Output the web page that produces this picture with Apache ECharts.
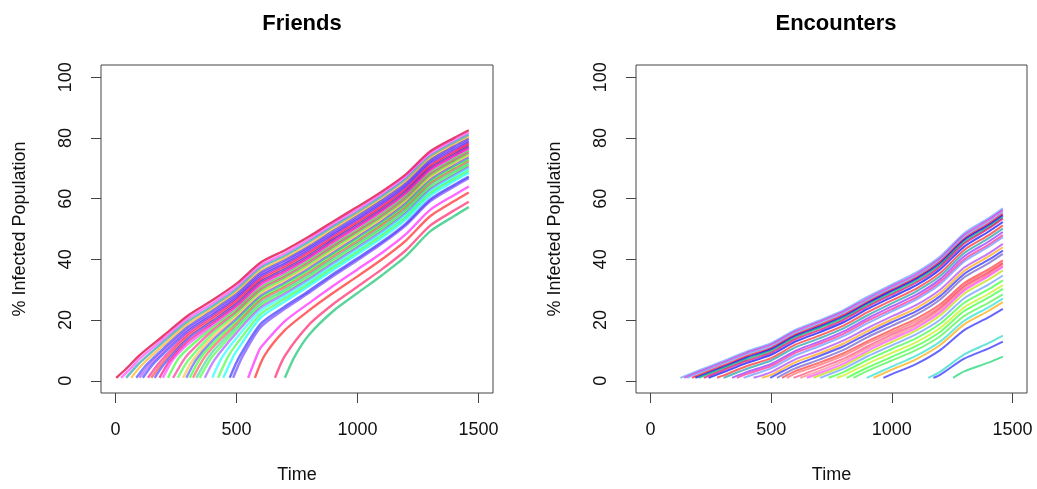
<!DOCTYPE html>
<html><head><meta charset="utf-8">
<script src="https://cdn.jsdelivr.net/npm/echarts@6/dist/echarts.min.js"></script>
<style>html,body{margin:0;padding:0;background:#fff}#c{width:1037px;height:489px}</style>
</head><body><div id="c"></div>
<script>
const panelTitles = ['Friends', 'Encounters'];
const xLabel = 'Time';
const yLabel = '% Infected Population';
const xTicks = [0, 500, 1000, 1500];
const yTicks = [0, 20, 40, 60, 80, 100];
const startLevel = 1;
const timeGrid = [100, 200, 300, 400, 500, 600, 700, 800, 900, 1000, 1100, 1200, 1300, 1400, 1460];

// Friends: start time, early point, values at timeGrid
const friendsStart = [3,23,44,65,86,99,113,134,148,162,182,196,217,238,258,279,293,307,320,334,348,369,400,424,445,472,486,548,576,659,700];
const friendsKnee = [[43,3.9],[63,4.1],[84,4.6],[105,4.9],[126,5.1],[139,5.1],[153,5.3],[174,5.3],[188,5.4],[202,5.6],[222,6.4],[236,6.8],[257,7.0],[278,6.4],[298,6.5],[319,6.8],[333,6.9],[347,7.0],[360,6.85],[374,6.5],[388,6.6],[409,6.9],[440,7.7],[464,7.8],[485,7.8],[512,7.95],[526,8.2],[588,9.1],[616,8.4],[699,8.1],[740,8.0]];
const friendsValues = [
  [8.5,15,21.5,26.5,32,39,43,47.5,52.5,57.3,62.3,68,75.5,80,82.5],
  [7.3,13.95,20.5,25.5,31,38,42,46.6,51.6,56.4,61.4,67.2,74.7,79.2,81.7],
  [6.0,13.0,19.6,24.6,30.1,37.2,41.2,45.8,50.8,55.6,60.7,66.4,73.9,78.5,81],
  [null,11.9,18.7,23.7,29.3,36.3,40.4,44.9,50,54.9,59.9,65.7,73.2,77.8,80.3],
  [null,10.8,17.8,23.0,28.5,35.6,39.7,44.2,49.3,54.2,59.3,65,72.6,77.2,79.7],
  [null,9.95,17.1,22.3,27.9,35,39.1,43.7,48.7,53.6,58.7,64.5,72.1,76.7,79.2],
  [null,9.05,16.4,21.7,27.3,34.4,38.5,43.1,48.2,53.1,58.2,64,71.6,76.1,78.7],
  [null,7.7,15.6,21.0,26.7,33.8,37.9,42.5,47.6,52.5,57.6,63.4,71,75.6,78.2],
  [null,6.55,14.8,20.3,26.05,33.2,37.3,41.9,47.0,51.95,57.1,62.9,70.5,75.1,77.7],
  [null,null,14.0,19.6,25.4,32.6,36.7,41.3,46.5,51.4,56.5,62.4,70,74.6,77.2],
  [null,null,13.05,18.9,24.75,31.95,36.1,40.7,45.9,50.8,56.0,61.8,69.5,74.1,76.7],
  [null,null,12.1,18.2,24.1,31.3,35.5,40.2,45.3,50.3,55.4,61.3,68.95,73.6,76.2],
  [null,null,10.7,17.4,23.5,30.7,34.9,39.6,44.75,49.7,54.9,60.8,68.4,73.1,75.7],
  [null,null,8.8,16.5,22.8,30.1,34.3,39.0,44.2,49.2,54.3,60.2,67.9,72.6,75.2],
  [null,null,null,15.5,22.1,29.5,33.7,38.4,43.6,48.6,53.8,59.7,67.4,72.1,74.7],
  [null,null,null,14.3,21.2,28.7,33.0,37.7,42.9,47.9,53.1,59.05,66.8,71.5,74.1],
  [null,null,null,13.2,20.4,27.95,32.3,37.0,42.2,47.3,52.5,58.4,66.1,70.9,73.5],
  [null,null,null,12.1,19.6,27.2,31.6,36.3,41.6,46.6,51.8,57.8,65.5,70.3,72.9],
  [null,null,null,10.9,18.7,26.5,30.85,35.6,40.9,45.9,51.2,57.1,64.9,69.65,72.3],
  [null,null,null,9.5,17.8,25.7,30.1,34.9,40.2,45.3,50.5,56.5,64.3,69.0,71.7],
  [null,null,null,8.0,16.9,24.9,29.4,34.2,39.5,44.6,49.9,55.9,63.6,68.4,71.1],
  [null,null,null,null,15.8,24.1,28.65,33.5,38.8,43.9,49.2,55.2,63.0,67.8,70.5],
  [null,null,null,null,14.1,23.1,27.9,32.8,38.1,43.25,48.6,54.6,62.4,67.2,69.9],
  [null,null,null,null,12.1,22.0,27.0,32.0,37.3,42.45,47.8,53.8,61.7,66.5,69.2],
  [null,null,null,null,9.8,20.8,26.1,31.2,36.5,41.7,47.0,53.1,60.9,65.8,68.5],
  [null,null,null,null,null,18.8,24.5,29.7,35.2,40.35,45.7,51.8,59.7,64.6,67.3],
  [null,null,null,null,null,17.7,23.7,29.0,34.5,39.7,45.1,51.2,59.1,64.0,66.7],
  [null,null,null,null,null,10.95,19.65,25.6,31.3,36.7,42.1,48.3,56.3,61.2,64.0],
  [null,null,null,null,null,null,16.7,23.2,29.0,34.4,39.95,46.2,54.2,59.2,62.0],
  [null,null,null,null,null,null,null,18.5,25.3,31.0,36.7,43.0,51.1,56.15,59.0],
  [null,null,null,null,null,null,null,15.2,23.0,28.9,34.7,41.05,49.2,54.3,57.2]
];

// Encounters: start time, values at timeGrid
const encountersStart = [124,140,152,172,186,200,221,241,276,303,338,358,386,427,462,496,524,545,565,593,620,648,675,703,738,772,813,841,896,924,965,1151,1172,1254];
const encountersValues = [
  [null,3.4,6.5,9.7,12.4,16.8,19.9,23.3,27.7,31.7,35.6,40.9,48.6,53.5,56.8],
  [null,2.9,6.0,9.2,11.9,16.3,19.4,22.8,27.1,31.1,35.0,40.3,48.0,52.9,56.2],
  [null,2.5,5.6,8.8,11.4,15.8,18.9,22.3,26.7,30.6,34.5,39.8,47.5,52.3,55.6],
  [null,1.9,4.97,8.2,10.8,15.2,18.3,21.7,26.0,30.0,33.9,39.2,46.8,51.7,55.0],
  [null,1.4,4.5,7.7,10.4,14.8,17.8,21.2,25.6,29.6,33.5,38.7,46.4,51.2,54.5],
  [null,null,4.1,7.2,9.9,14.3,17.4,20.7,25.1,29.0,32.9,38.2,45.8,50.6,53.9],
  [null,null,3.5,6.6,9.3,13.7,16.7,20.1,24.5,28.4,32.3,37.6,45.2,50.1,53.4],
  [null,null,2.8,5.9,8.6,12.9,15.97,19.3,23.7,27.6,31.4,36.7,44.2,49.1,52.3],
  [null,null,1.7,4.9,7.5,11.9,14.9,18.2,22.6,26.5,30.3,35.5,43.1,47.9,51.2],
  [null,null,null,4.0,6.7,11.0,14.0,17.3,21.6,25.5,29.4,34.5,42.1,46.9,50.1],
  [null,null,null,2.96,5.6,9.9,12.9,16.3,20.6,24.5,28.3,33.5,41.0,45.8,49.0],
  [null,null,null,2.3,4.9,9.2,12.2,15.5,19.8,23.6,27.4,32.6,40.0,44.8,48.0],
  [null,null,null,1.4,4.1,8.35,11.4,14.7,19.0,22.9,26.7,31.8,39.3,44.1,47.3],
  [null,null,null,null,2.9,7.1,10.0,13.3,17.4,21.2,24.9,30.0,37.3,41.9,45.1],
  [null,null,null,null,1.95,6.1,9.0,12.3,16.4,20.2,23.9,28.9,36.2,40.9,44.0],
  [null,null,null,null,null,5.2,8.2,11.4,15.5,19.3,22.9,27.9,35.2,39.8,42.9],
  [null,null,null,null,null,4.1,7.0,10.2,14.4,18.1,21.8,26.8,34.1,38.7,41.8],
  [null,null,null,null,null,3.2,6.0,9.1,13.1,16.8,20.4,25.2,32.2,36.7,39.7],
  [null,null,null,null,null,2.4,5.2,8.3,12.4,16.0,19.6,24.4,31.5,36.0,39.0],
  [null,null,null,null,null,null,4.2,7.3,11.4,15.2,18.8,23.8,31.0,35.5,38.6],
  [null,null,null,null,null,null,3.3,6.5,10.7,14.4,18.1,23.1,30.3,34.9,38.0],
  [null,null,null,null,null,null,2.5,5.7,9.9,13.7,17.4,22.4,29.7,34.4,37.5],
  [null,null,null,null,null,null,1.75,4.9,9.1,12.8,16.5,21.5,28.7,33.3,36.4],
  [null,null,null,null,null,null,null,4.0,8.1,11.7,15.3,20.1,27.2,31.7,34.7],
  [null,null,null,null,null,null,null,2.9,6.9,10.5,14.0,18.8,25.7,30.1,33.1],
  [null,null,null,null,null,null,null,1.8,5.7,9.2,12.7,17.4,24.2,28.6,31.5],
  [null,null,null,null,null,null,null,null,4.4,7.9,11.4,16.1,23.0,27.4,30.3],
  [null,null,null,null,null,null,null,null,3.3,6.7,10.1,14.7,21.4,25.7,28.5],
  [null,null,null,null,null,null,null,null,null,4.7,8.2,12.9,19.8,24.2,27.1],
  [null,null,null,null,null,null,null,null,null,3.7,7.1,11.8,18.6,23.0,25.9],
  [null,null,null,null,null,null,null,null,null,2.2,5.5,10.1,16.7,20.9,23.7],
  [null,null,null,null,null,null,null,null,null,null,null,2.95,8.7,12.4,14.9],
  [null,null,null,null,null,null,null,null,null,null,null,2.0,7.3,10.6,12.9],
  [null,null,null,null,null,null,null,null,null,null,null,null,3.1,6.0,8.0]
];

const friendsColors = [
  'rgba(220,0,60,0.75)','rgba(255,0,255,0.5)','rgba(0,150,160,0.6)','rgba(255,165,0,0.6)',
  'rgba(0,0,255,0.5)','rgba(128,0,255,0.45)','rgba(0,0,255,0.5)','rgba(255,0,128,0.6)',
  'rgba(255,0,0,0.5)','rgba(0,0,255,0.5)','rgba(255,0,128,0.65)','rgba(255,0,255,0.5)',
  'rgba(0,255,0,0.55)','rgba(255,0,128,0.55)','rgba(0,255,0,0.5)','rgba(255,165,0,0.5)',
  'rgba(0,0,255,0.45)','rgba(0,255,0,0.55)','rgba(255,0,0,0.45)','rgba(0,200,120,0.5)',
  'rgba(0,255,0,0.5)','rgba(128,0,255,0.45)','rgba(0,255,255,0.6)','rgba(0,255,0,0.5)',
  'rgba(0,255,255,0.65)','rgba(0,0,255,0.55)','rgba(90,40,255,0.6)','rgba(255,0,255,0.6)',
  'rgba(255,0,0,0.6)','rgba(255,0,80,0.6)','rgba(0,190,100,0.65)'
];
const encountersColors = [
  'rgba(110,160,255,0.75)','rgba(230,0,200,0.6)','rgba(110,160,255,0.7)','rgba(255,0,0,0.65)',
  'rgba(0,0,255,0.7)','rgba(0,190,110,0.7)','rgba(230,0,110,0.7)','rgba(0,0,255,0.7)',
  'rgba(255,0,0,0.6)','rgba(0,150,160,0.65)','rgba(128,0,255,0.6)','rgba(255,0,128,0.6)',
  'rgba(100,150,255,0.7)','rgba(160,32,240,0.6)','rgba(255,165,0,0.7)','rgba(0,0,255,0.6)',
  'rgba(110,90,200,0.7)','rgba(255,0,0,0.55)','rgba(255,60,60,0.55)','rgba(255,0,80,0.5)',
  'rgba(255,100,100,0.55)','rgba(255,0,255,0.5)','rgba(190,220,0,0.7)','rgba(100,150,255,0.7)',
  'rgba(0,255,0,0.55)','rgba(190,240,0,0.65)','rgba(0,255,0,0.55)','rgba(0,240,0,0.5)',
  'rgba(0,220,200,0.6)','rgba(255,165,0,0.7)','rgba(0,0,255,0.6)','rgba(0,210,190,0.6)',
  'rgba(0,0,255,0.6)','rgba(0,210,100,0.65)'
];

const FONT = '"Liberation Sans", Arial, Helvetica, sans-serif';
const plainNumber = v => String(v);

function buildLines(starts, knees, values, colors, idx, width) {
  return starts.map((t0, i) => {
    const pts = [[t0, startLevel]];
    if (knees && knees[i]) pts.push(knees[i]);
    values[i].forEach((v, j) => { if (v != null) pts.push([timeGrid[j], v]); });
    return {
      type: 'line', xAxisIndex: idx, yAxisIndex: idx, data: pts,
      showSymbol: false, symbol: 'none', smooth: 0.25,
      lineStyle: { color: colors[i % colors.length], width: width },
      silent: true, animation: false
    };
  });
}

function xAxisFor(idx) {
  return {
    type: 'value', gridIndex: idx, min: -60, max: 1560,
    axisLine: { show: false, onZero: false }, splitLine: { show: false },
    axisTick: { show: true, customValues: xTicks, length: 10, lineStyle: { color: '#444' } },
    axisLabel: { customValues: xTicks, formatter: plainNumber, fontSize: 18, color: '#111', margin: 28, fontFamily: FONT },
    name: xLabel, nameLocation: 'middle', nameGap: 73,
    nameTextStyle: { fontSize: 18, color: '#111', fontFamily: FONT }
  };
}
function yAxisFor(idx) {
  return {
    type: 'value', gridIndex: idx, min: -4, max: 104,
    axisLine: { show: false, onZero: false }, splitLine: { show: false },
    axisTick: { show: true, customValues: yTicks, length: 10, lineStyle: { color: '#444' } },
    axisLabel: { customValues: yTicks, formatter: plainNumber, fontSize: 18, color: '#111', margin: 26, rotate: 90, fontFamily: FONT },
    name: yLabel, nameLocation: 'middle', nameGap: 72, nameRotate: 90,
    nameTextStyle: { fontSize: 18, color: '#111', fontFamily: FONT }
  };
}

const chart = echarts.init(document.getElementById('c'), null, { renderer: 'canvas' });
chart.setOption({
  animation: false,
  backgroundColor: '#fff',
  title: [
    { text: panelTitles[0], left: 297, top: 8, textAlign: 'center', textStyle: { fontSize: 22, fontWeight: 'bold', color: '#000', fontFamily: FONT } },
    { text: panelTitles[1], left: 831, top: 8, textAlign: 'center', textStyle: { fontSize: 22, fontWeight: 'bold', color: '#000', fontFamily: FONT } }
  ],
  grid: [
    { left: 101, top: 65, width: 392, height: 328, show: true, borderColor: '#444', borderWidth: 1, backgroundColor: 'transparent' },
    { left: 636, top: 65, width: 391, height: 328, show: true, borderColor: '#444', borderWidth: 1, backgroundColor: 'transparent' }
  ],
  xAxis: [xAxisFor(0), xAxisFor(1)],
  yAxis: [yAxisFor(0), yAxisFor(1)],
  series: buildLines(friendsStart, friendsKnee, friendsValues, friendsColors, 0, 2.4)
    .concat(buildLines(encountersStart, null, encountersValues, encountersColors, 1, 2))
});
</script>
</body></html>
